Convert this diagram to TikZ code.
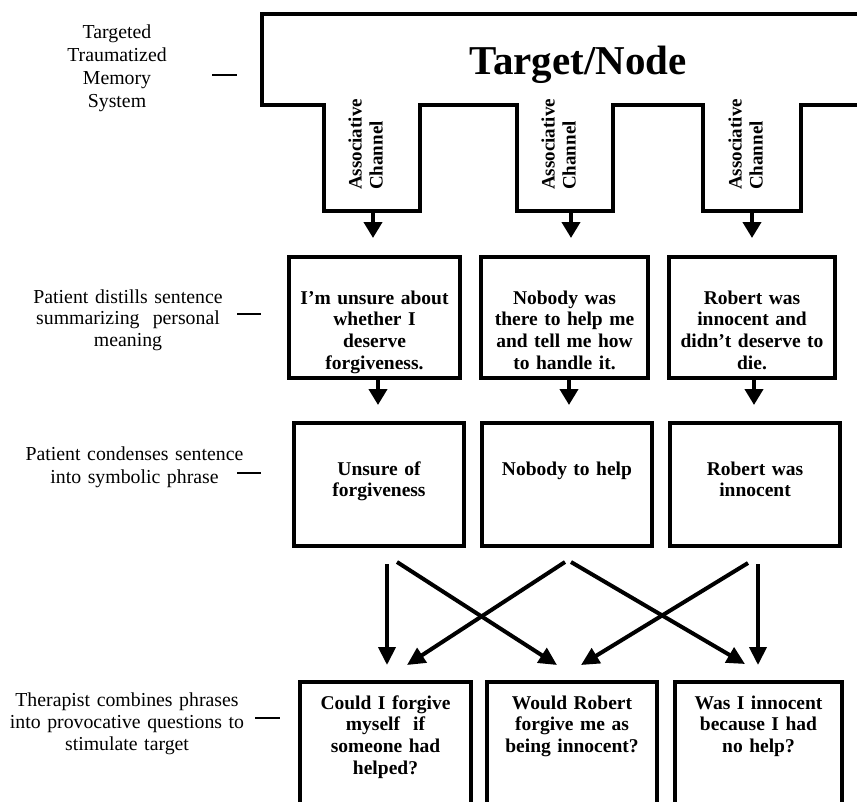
\documentclass[tikz,border=0pt]{standalone}
\usepackage{fontspec}
\setmainfont{Liberation Serif}
\usetikzlibrary{arrows.meta,calc}
\begin{document}
\begin{tikzpicture}[x=1pt,y=-1pt,
  frame/.style={line width=4.3pt, line join=miter},
  box/.style={draw, line width=4pt, inner sep=0pt},
  boxtext/.style={font=\bfseries\fontsize{19.5}{21.8}\selectfont, text width=165pt, align=center, inner sep=0pt, anchor=base},
  side/.style={font=\fontsize{19.8}{22}\selectfont, text width=250pt, align=center, inner sep=0pt, anchor=base},
  chtext/.style={font=\bfseries\fontsize{19}{21}\selectfont, text width=100pt, align=left, inner sep=0pt, rotate=90, anchor=base west},
  varr/.style={line width=4pt, -{Triangle[length=16pt,width=18pt]}},
  xarr/.style={line width=4pt, -{Triangle[length=18pt,width=17pt]}},
  tick/.style={line width=1.8pt}]
\useasboundingbox (0,0) rectangle (857,801);

% ---- target frame ----
\coordinate (c1l) at (324,211); \coordinate (c1r) at (420,211);
\coordinate (c2l) at (517,211); \coordinate (c2r) at (613,211);
\coordinate (c3l) at (703,211); \coordinate (c3r) at (801,211);
\draw[frame] (870,14) -- (262,14) -- (262,105) -- (c1l |- 0,105) -- (c1l) -- (c1r) -- (c1r |- 0,105)
  -- (c2l |- 0,105) -- (c2l) -- (c2r) -- (c2r |- 0,105)
  -- (c3l |- 0,105) -- (c3l) -- (c3r) -- (c3r |- 0,105) -- (870,105);
\node[font=\bfseries\fontsize{41}{45}\selectfont, inner sep=0pt, anchor=base] (title) at (578,74) {Target/Node};

\node[chtext] (ac1) at (361.5,190) {Associative\\Channel};
\node[chtext] (ac2) at (554.5,190) {Associative\\Channel};
\node[chtext] (ac3) at (741.5,190) {Associative\\Channel};

\coordinate (ch1) at (373,211);
\coordinate (ch2) at (571,211);
\coordinate (ch3) at (752,211);

% ---- row 1 ----
\node[box, minimum width=171pt, minimum height=121pt] (a1) at (374.5,317.5) {};
\node[box, minimum width=167pt, minimum height=121pt] (a2) at (564.5,317.5) {};
\node[box, minimum width=166pt, minimum height=121pt] (a3) at (752,317.5) {};
\node[boxtext] (ta1) at (374.5,304) {I’m unsure about\\whether I\\deserve\\forgiveness.};
\node[boxtext] (ta2) at (564.5,304) {Nobody was\\there to help me\\and tell me how\\to handle it.};
\node[boxtext] (ta3) at (752,304) {Robert was\\innocent and\\didn’t deserve to\\die.};

% ---- row 2 ----
\node[box, minimum width=170pt, minimum height=123pt] (b1) at (379,484.5) {};
\node[box, minimum width=170pt, minimum height=123pt] (b2) at (567,484.5) {};
\node[box, minimum width=170pt, minimum height=123pt] (b3) at (755,484.5) {};
\node[boxtext] (tb1) at (379,475) {Unsure of\\forgiveness};
\node[boxtext] (tb2) at (567,475) {Nobody to help};
\node[boxtext] (tb3) at (755,475) {Robert was\\innocent};

% ---- row 3 ----
\node[box, minimum width=171pt, minimum height=148pt] (c1) at (385.5,756) {};
\node[box, minimum width=170pt, minimum height=148pt] (c2) at (572,756) {};
\node[box, minimum width=167pt, minimum height=148pt] (c3) at (758.5,756) {};
\node[boxtext] (tc1) at (385.5,709) {Could I forgive\\myself\ \ if\\someone had\\helped?};
\node[boxtext] (tc2) at (572,709) {Would Robert\\forgive me as\\being innocent?};
\node[boxtext] (tc3) at (758.5,709) {Was I innocent\\because I had\\no help?};

% ---- arrows ----
\draw[varr, shorten >=17pt] (ch1) -- (ch1 |- a1.north);
\draw[varr, shorten >=17pt] (ch2) -- (ch2 |- a2.north);
\draw[varr, shorten >=17pt] (ch3) -- (ch3 |- a3.north);

\draw[varr, shorten >=16pt] ([xshift=3.5pt]a1.south) -- ([xshift=3.5pt]a1.south |- b1.north);
\draw[varr, shorten >=16pt] ([xshift=4.5pt]a2.south) -- ([xshift=4.5pt]a2.south |- b2.north);
\draw[varr, shorten >=16pt] ([xshift=2pt]a3.south) -- ([xshift=2pt]a3.south |- b3.north);

\draw[xarr] ([shift={(8,16)}]b1.south) -- ([shift={(1.5,-15)}]c1.north);
\draw[xarr] ([shift={(18,14)}]b1.south) -- ([shift={(-15,-15)}]c2.north);
\draw[xarr] ([shift={(-2,14)}]b2.south) -- ([shift={(21.5,-15)}]c1.north);
\draw[xarr] ([shift={(4,14)}]b2.south) -- ([shift={(-13.5,-16)}]c3.north);
\draw[xarr] ([shift={(-7,15)}]b3.south) -- ([shift={(9,-15)}]c2.north);
\draw[xarr] ([shift={(3,16)}]b3.south) -- ([shift={(-0.5,-15)}]c3.north);

% ---- side labels ----
\node[side, font=\fontsize{19.8}{23}\selectfont] (l1) at (117,38) {Targeted\\Traumatized\\Memory\\System};
\node[side, font=\fontsize{19.8}{21.5}\selectfont] (l2) at (128,303) {Patient distills sentence\\summarizing\ \ personal\\meaning};
\node[side, font=\fontsize{19.8}{23}\selectfont] (l3) at (134.5,460) {Patient condenses sentence\\into symbolic phrase};
\node[side, font=\fontsize{19.8}{22}\selectfont] (l4) at (127,706) {Therapist combines phrases\\into provocative questions to\\stimulate target};

\coordinate (d1a) at (212,75); \coordinate (d1b) at (237,75);
\coordinate (d2a) at (237,314); \coordinate (d2b) at (261,314);
\coordinate (d3a) at (237,473); \coordinate (d3b) at (261,473);
\coordinate (d4a) at (255,718); \coordinate (d4b) at (280,718);
\draw[tick] (d1a) -- (d1b);
\draw[tick] (d2a) -- (d2b);
\draw[tick] (d3a) -- (d3b);
\draw[tick] (d4a) -- (d4b);
\end{tikzpicture}
\end{document}
